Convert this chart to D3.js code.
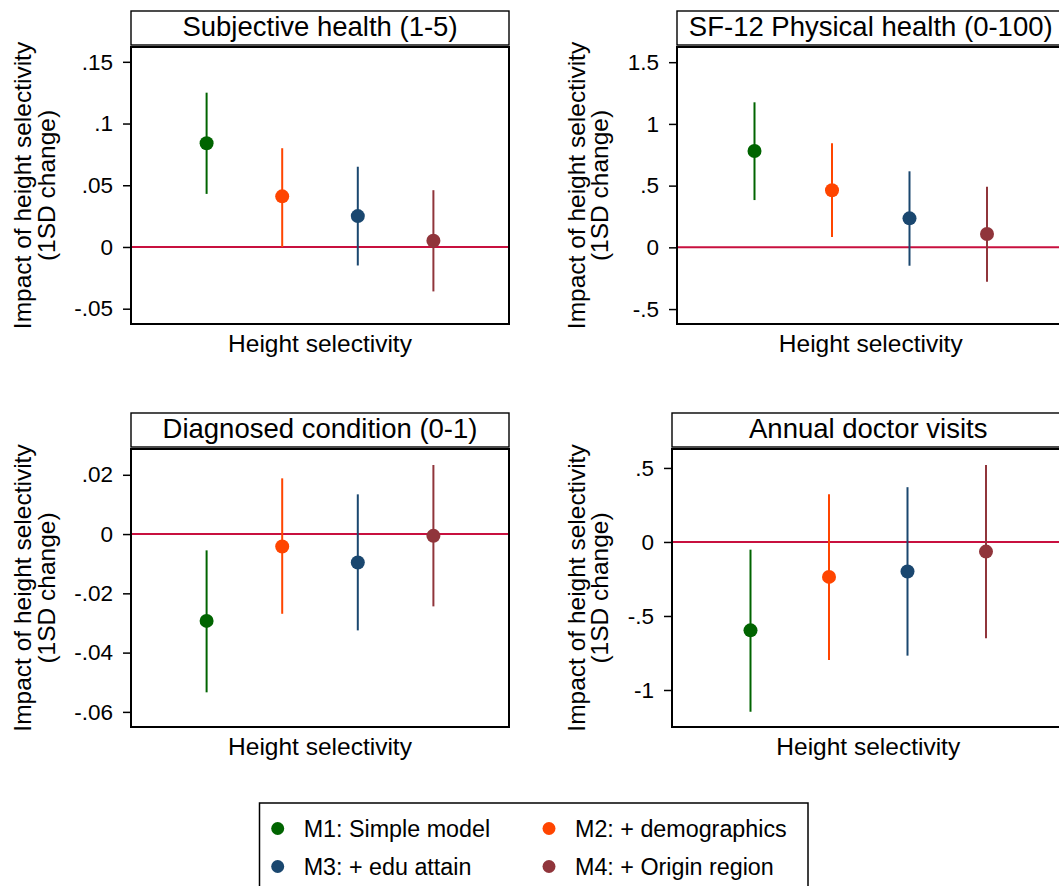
<!DOCTYPE html>
<html>
<head>
<meta charset="utf-8">
<script src="https://cdn.jsdelivr.net/npm/d3@7"></script>
<style>
  html, body { margin: 0; padding: 0; background: #fff; }
  svg { display: block; font-family: "Liberation Sans", Arial, Helvetica, sans-serif; }
</style>
</head>
<body>
<svg id="chart" width="1059" height="886"></svg>
<script>
// Model labels and colours (one per estimate within each panel)
const models = ["M1: Simple model", "M2: + demographics", "M3: + edu attain", "M4: + Origin region"];
const modelColors = ["#006400", "#ff4500", "#1a476f", "#90353b"];

// Panel titles
const panelTitles = ["Subjective health (1-5)", "SF-12 Physical health (0-100)",
                     "Diagnosed condition (0-1)", "Annual doctor visits"];

// Point estimates and 95% confidence bounds, one array per outcome
const subjEst = [0.084, 0.041, 0.025, 0.005];
const subjLo  = [0.043, 0.000, -0.015, -0.036];
const subjHi  = [0.125, 0.080, 0.065, 0.046];

const sf12Est = [0.780, 0.462, 0.235, 0.108];
const sf12Lo  = [0.383, 0.083, -0.149, -0.279];
const sf12Hi  = [1.175, 0.843, 0.616, 0.491];

const diagEst = [-0.0293, -0.0042, -0.0096, -0.0006];
const diagLo  = [-0.0534, -0.0269, -0.0325, -0.0244];
const diagHi  = [-0.0055, 0.0188, 0.0134, 0.0233];

const docEst = [-0.597, -0.236, -0.200, -0.065];
const docLo  = [-1.147, -0.797, -0.768, -0.651];
const docHi  = [-0.052, 0.322, 0.370, 0.520];

// Y axis tick values per panel
const subjTicks = [-0.05, 0, 0.05, 0.1, 0.15];
const sf12Ticks = [-0.5, 0, 0.5, 1, 1.5];
const diagTicks = [-0.06, -0.04, -0.02, 0, 0.02];
const docTicks  = [-1, -0.5, 0, 0.5];

// Y axis ranges per panel
const subjRange = [-0.0624, 0.162];
const sf12Range = [-0.621, 1.623];
const diagRange = [-0.0651, 0.0287];
const docRange  = [-1.25, 0.628];

const xTitle = "Height selectivity";
const yTitleLines = ["Impact of height selectivity", "(1SD change)"];

const panels = [
  { title: panelTitles[0], est: subjEst, lo: subjLo, hi: subjHi, ticks: subjTicks, range: subjRange },
  { title: panelTitles[1], est: sf12Est, lo: sf12Lo, hi: sf12Hi, ticks: sf12Ticks, range: sf12Range },
  { title: panelTitles[2], est: diagEst, lo: diagLo, hi: diagHi, ticks: diagTicks, range: diagRange },
  { title: panelTitles[3], est: docEst,  lo: docLo,  hi: docHi,  ticks: docTicks,  range: docRange }
];

// Plot-region boxes (the right column runs past the page edge)
const boxes = [
  { x0: 131, x1: 509,    y0: 47,  y1: 324 },
  { x0: 677, x1: 1064.5, y0: 47,  y1: 324 },
  { x0: 131, x1: 509,    y0: 449, y1: 727 },
  { x0: 672, x1: 1064.5, y0: 449, y1: 727 }
];

// Stata-style number labels: ".05", "-.5", "1.5"
const stataFmt = v => {
  if (v === 0) return "0";
  return String(+v.toFixed(6)).replace(/^(-?)0\./, "$1.");
};

const svg = d3.select("#chart");

panels.forEach((p, i) => {
  const b = boxes[i];
  const g = svg.append("g");

  const x = d3.scaleLinear().domain([0, models.length + 1]).range([b.x0, b.x1]);
  const y = d3.scaleLinear().domain(p.range).range([b.y1, b.y0]);

  // Title strip
  g.append("rect")
    .attr("x", b.x0).attr("y", b.y0 - 36)
    .attr("width", b.x1 - b.x0).attr("height", 34)
    .attr("fill", "#fff").attr("stroke", "#000").attr("stroke-width", 1.4);
  g.append("text")
    .attr("x", (b.x0 + b.x1) / 2).attr("y", b.y0 - 11)
    .attr("text-anchor", "middle")
    .attr("font-size", 27.5)
    .text(p.title);

  // Zero reference line
  g.append("line")
    .attr("x1", b.x0).attr("x2", b.x1)
    .attr("y1", y(0)).attr("y2", y(0))
    .attr("stroke", "#c8103f").attr("stroke-width", 2);

  // Confidence intervals
  g.selectAll("line.ci")
    .data(p.est.map((e, k) => ({ k, e, lo: p.lo[k], hi: p.hi[k] })))
    .join("line")
    .attr("class", "ci")
    .attr("x1", d => x(d.k + 1)).attr("x2", d => x(d.k + 1))
    .attr("y1", d => y(d.lo)).attr("y2", d => y(d.hi))
    .attr("stroke", d => modelColors[d.k]).attr("stroke-width", 2);

  // Point estimates
  g.selectAll("circle.pt")
    .data(p.est.map((e, k) => ({ k, e })))
    .join("circle")
    .attr("class", "pt")
    .attr("cx", d => x(d.k + 1)).attr("cy", d => y(d.e))
    .attr("r", 7)
    .attr("fill", d => modelColors[d.k]);

  // Plot frame
  g.append("rect")
    .attr("x", b.x0).attr("y", b.y0)
    .attr("width", b.x1 - b.x0).attr("height", b.y1 - b.y0)
    .attr("fill", "none").attr("stroke", "#000").attr("stroke-width", 2);

  // Y axis
  const ax = g.append("g")
    .attr("transform", `translate(${b.x0},0)`)
    .call(d3.axisLeft(y).tickValues(p.ticks).tickSize(8).tickPadding(10).tickFormat(stataFmt));
  ax.attr("font-size", null).attr("font-family", null);
  ax.select(".domain").remove();
  ax.selectAll(".tick line").attr("stroke", "#000").attr("stroke-width", 1.5);
  ax.selectAll(".tick text")
    .style("font-size", "22.5px")
    .style("font-family", "'Liberation Sans', Arial, sans-serif")
    .attr("fill", "#000");

  // Y axis title, placed relative to the widest tick label
  const labelLeft = d3.min(ax.selectAll(".tick text").nodes(), n => {
    const bb = n.getBBox();
    return b.x0 + bb.x;
  });
  const cy = (b.y0 + b.y1) / 2;
  const base2 = labelLeft - 19.5;
  const base1 = base2 - 23.5;
  [base1, base2].forEach((bx, li) => {
    g.append("text")
      .attr("transform", `translate(${bx},${cy}) rotate(-90)`)
      .attr("text-anchor", "middle")
      .attr("font-size", 24.5)
      .text(yTitleLines[li]);
  });

  // X axis title
  g.append("text")
    .attr("x", (b.x0 + b.x1) / 2).attr("y", b.y1 + 28)
    .attr("text-anchor", "middle")
    .attr("font-size", 24.5)
    .text(xTitle);
});

// Legend
const legend = svg.append("g");
legend.append("rect")
  .attr("x", 259.5).attr("y", 803)
  .attr("width", 548.5).attr("height", 100)
  .attr("fill", "#fff").attr("stroke", "#000").attr("stroke-width", 1.5);

const legCols = [277.7, 549];
const legRows = [828.5, 866.5];
models.forEach((m, k) => {
  const cx = legCols[k % 2], cyy = legRows[Math.floor(k / 2)];
  legend.append("circle")
    .attr("cx", cx).attr("cy", cyy).attr("r", 6.5)
    .attr("fill", modelColors[k]);
  legend.append("text")
    .attr("x", cx + 26).attr("y", cyy)
    .attr("dy", "0.35em")
    .attr("font-size", 23.3)
    .text(m);
});
</script>
</body>
</html>
